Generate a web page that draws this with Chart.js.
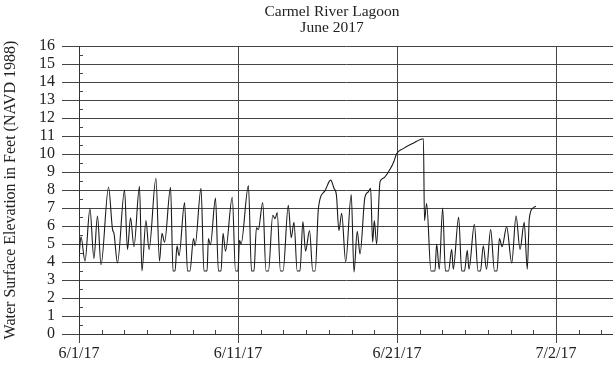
<!DOCTYPE html>
<html>
<head>
<meta charset="utf-8">
<script src="https://cdn.jsdelivr.net/npm/chart.js@4.4.1/dist/chart.umd.min.js"></script>
<style>
  html, body { margin: 0; padding: 0; background: #fff; }
  #wrap  { position: relative; width: 613px; height: 377px; }
  #title { position: absolute; left: 232px; width: 200px; top: 3px; text-align: center;
           font: 15.5px "Liberation Serif", "Times New Roman", serif; line-height: 16px; color: #222; }
</style>
</head>
<body>
<div id="wrap">
  <canvas id="chart" width="613" height="377"></canvas>
  <div id="title">Carmel River Lagoon<br>June 2017</div>
</div>
<script>
// ── Data (days after 6/1/17 00:00, water level in feet) ─────
const days = [
  0.00, 0.13, 0.39, 0.71, 0.97, 1.20, 1.43, 1.92, 2.18, 2.27, 2.50,
  2.96, 3.15, 3.35, 3.57, 3.93, 4.09, 4.35, 4.55, 5.00, 5.23, 5.39, 5.56,
  5.95, 6.11, 6.24, 6.37, 6.50, 6.86, 7.05, 7.21, 7.44, 7.54, 7.93,
  8.12, 8.32, 8.41, 8.54, 8.87, 9.06, 9.23, 9.36, 9.52, 9.96,
  10.17, 10.33, 10.43, 10.53, 11.01, 11.21, 11.37, 11.53, 11.65, 11.94,
  12.15, 12.31, 12.59, 12.74, 12.88, 13.09, 13.26, 13.60, 13.79, 13.97,
  14.18, 14.36, 14.55, 14.72, 14.98, 15.19, 15.35, 15.56, 15.98, 16.35,
  16.57, 16.73, 16.89, 17.07, 17.33, 17.69, 17.87, 18.08, 18.26, 18.58,
  18.80, 18.95, 19.08, 19.19, 19.34, 19.56, 19.77, 20.21, 20.47, 20.63,
  21.07, 21.72, 22.38, 22.45, 22.59, 22.87, 23.13, 23.24, 23.41, 23.63,
  23.81, 24.01, 24.22, 24.32, 24.67, 24.87, 25.05, 25.23, 25.34, 25.69,
  25.93, 26.09, 26.27, 26.48, 26.75, 27.00, 27.16, 27.32, 27.49, 27.79,
  28.12, 28.40, 28.66, 28.93, 29.13, 29.26, 29.50, 29.69
];
const levels = [
  4.30, 5.40, 4.05, 6.95, 4.20, 6.55, 3.85, 8.15, 5.80, 5.60, 3.95,
  8.00, 4.70, 6.45, 4.85, 8.20, 3.50, 6.30, 4.70, 8.65, 4.05, 5.60, 5.10,
  8.15, 3.50, 3.50, 4.90, 4.35, 7.30, 3.50, 3.50, 5.30, 4.90, 8.10,
  3.50, 3.50, 5.30, 4.95, 7.55, 3.50, 3.50, 5.60, 4.60, 7.60,
  3.50, 3.50, 5.20, 5.00, 8.25, 3.50, 3.50, 5.90, 5.80, 7.30,
  3.50, 3.50, 6.60, 6.40, 6.75, 3.50, 3.50, 7.15, 5.35, 6.20,
  3.50, 3.50, 6.25, 4.60, 5.75, 3.50, 3.50, 7.00, 7.95, 8.55,
  8.10, 7.70, 5.75, 6.70, 4.00, 7.75, 3.45, 5.70, 4.45, 7.60,
  7.90, 8.10, 5.10, 6.30, 5.00, 8.45, 8.65, 9.15, 9.60, 10.00,
  10.30, 10.60, 10.85, 6.30, 7.25, 3.50, 3.50, 5.00, 3.60, 7.00,
  3.50, 3.50, 4.70, 3.60, 6.50, 3.50, 3.50, 4.65, 3.60, 6.10,
  3.50, 3.50, 4.90, 3.60, 5.80, 3.50, 3.50, 5.30, 4.85, 5.95,
  3.95, 6.55, 4.70, 6.20, 3.60, 6.40, 7.00, 7.10
];

// Excel-style date axis: major unit 10.333 days, minor unit 1/7 of that
const xMajor    = [0, 10.3333, 20.6667, 31];
const xLabels   = ['6/1/17', '6/11/17', '6/21/17', '7/2/17'];
const xMax      = 34.7;
const yTicks    = [0, 1, 2, 3, 4, 5, 6, 7, 8, 9, 10, 11, 12, 13, 14, 15, 16];

const FONT = '"Liberation Serif", "Times New Roman", serif';

// ── Minor tick marks drawn along both axes ─────────────────
const minorTicks = {
  id: 'minorTicks',
  afterDraw(chart) {
    const { ctx, chartArea: a, scales: { x, y } } = chart;
    ctx.save();
    ctx.strokeStyle = '#444';
    ctx.lineWidth = 1;
    ctx.beginPath();
    const step = xMajor[1] / 7;
    for (let v = step; v < xMax; v += step) {
      const px = Math.round(x.getPixelForValue(v)) + 0.5;
      ctx.moveTo(px, a.bottom);
      ctx.lineTo(px, a.bottom - 4);
    }
    for (let v = 0.5; v < 16; v += 1) {
      const py = Math.round(y.getPixelForValue(v)) + 0.5;
      ctx.moveTo(a.left, py);
      ctx.lineTo(a.left + 4, py);
    }
    ctx.stroke();
    ctx.restore();
  }
};

new Chart(document.getElementById('chart'), {
  type: 'line',
  data: {
    datasets: [{
      data: days.map((d, i) => ({ x: d, y: levels[i] })),
      borderColor: '#1a1a1a',
      borderWidth: 1.1,
      pointRadius: 0,
      cubicInterpolationMode: 'monotone',
      fill: false
    }]
  },
  options: {
    responsive: false,
    animation: false,
    devicePixelRatio: 1,
    layout: { padding: { top: 46, right: 0, bottom: 0, left: 0 } },
    plugins: { legend: { display: false }, tooltip: { enabled: false } },
    scales: {
      x: {
        type: 'linear',
        min: 0,
        max: xMax,
        afterBuildTicks: s => { s.ticks = xMajor.map(v => ({ value: v })); },
        afterFit: s => { s.height = 43; },
        grid: { color: '#444', tickLength: 9, lineWidth: 1 },
        border: { color: '#333' },
        ticks: {
          autoSkip: false, maxRotation: 0, padding: 1, color: '#222',
          font: { family: FONT, size: 16 },
          callback: (v, i) => xLabels[i]
        }
      },
      y: {
        min: 0,
        max: 16,
        afterBuildTicks: s => { s.ticks = yTicks.map(v => ({ value: v })); },
        afterFit: s => { s.width = 79; },
        grid: { color: '#444', tickLength: 17, lineWidth: 1 },
        border: { color: '#333' },
        ticks: { autoSkip: false, padding: 7, color: '#222', font: { family: FONT, size: 16 } },
        title: {
          display: true,
          text: 'Water Surface Elevation in Feet (NAVD 1988)',
          color: '#222',
          font: { family: FONT, size: 16 },
          padding: { top: 1, bottom: 0 }
        }
      }
    }
  },
  plugins: [minorTicks]
});
</script>
</body>
</html>
